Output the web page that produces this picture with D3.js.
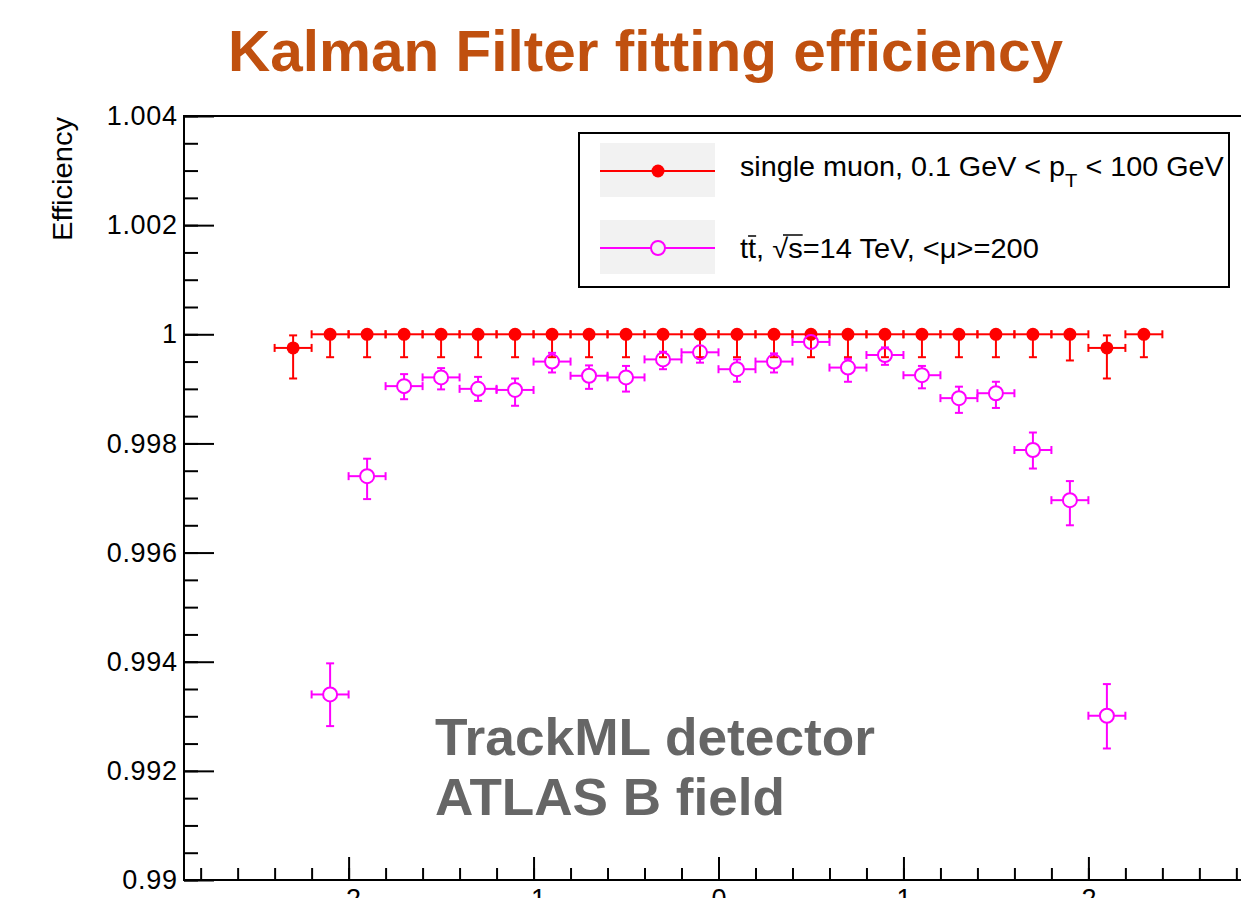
<!DOCTYPE html>
<html>
<head>
<meta charset="utf-8">
<script src="https://d3js.org/d3.v7.min.js"></script>
<style>
  html, body { margin: 0; padding: 0; background: #fff; }
  svg { display: block; }
  text { font-family: "Liberation Sans", Arial, Helvetica, sans-serif; }
</style>
</head>
<body>
<svg id="chart" width="1241" height="898"></svg>
<script>
// Fitting efficiency vs pseudorapidity, bins of width 0.2
const binHalfWidth = 0.1;

// single muon sample
const etaMuon = [-2.3, -2.1, -1.9, -1.7, -1.5, -1.3, -1.1, -0.9, -0.7, -0.5, -0.3, -0.1,
                 0.1, 0.3, 0.5, 0.7, 0.9, 1.1, 1.3, 1.5, 1.7, 1.9, 2.1, 2.3];
const effMuon = [0.99975, 1, 1, 1, 1, 1, 1, 1, 1, 1, 1, 1,
                 1, 1, 1, 1, 1, 1, 1, 1, 1, 1, 0.99975, 1];
const errLowMuon = [0.00056, 0.00042, 0.00042, 0.00042, 0.00042, 0.00042, 0.00042, 0.00042, 0.00042, 0.00042, 0.00042, 0.00042,
                    0.00042, 0.00042, 0.00042, 0.00042, 0.00042, 0.00042, 0.00042, 0.00042, 0.00042, 0.00048, 0.00056, 0.00042];
const errHighMuon = [0.00023, 0, 0, 0, 0, 0, 0, 0, 0, 0, 0, 0,
                     0, 0, 0, 0, 0, 0, 0, 0, 0, 0, 0.00023, 0];

// ttbar sample with pile-up
const etaTtbar = [-2.1, -1.9, -1.7, -1.5, -1.3, -1.1, -0.9, -0.7, -0.5, -0.3, -0.1,
                  0.1, 0.3, 0.5, 0.7, 0.9, 1.1, 1.3, 1.5, 1.7, 1.9, 2.1];
const effTtbar = [0.99340, 0.99740, 0.99905, 0.99921, 0.99900, 0.99898, 0.99950, 0.99924, 0.99921, 0.99954, 0.99967,
                  0.99936, 0.99950, 0.99986, 0.99939, 0.99962, 0.99925, 0.99883, 0.99892, 0.99788, 0.99696, 0.99301];
const errLowTtbar = [0.00058, 0.00042, 0.00024, 0.00022, 0.00022, 0.00029, 0.00020, 0.00024, 0.00026, 0.00018, 0.00019,
                     0.00023, 0.00020, 0.00013, 0.00026, 0.00018, 0.00024, 0.00027, 0.00027, 0.00034, 0.00046, 0.00060];
const errHighTtbar = [0.00057, 0.00032, 0.00022, 0.00017, 0.00022, 0.00021, 0.00016, 0.00019, 0.00021, 0.00014, 0.00013,
                      0.00018, 0.00015, 0.00008, 0.00016, 0.00014, 0.00017, 0.00021, 0.00021, 0.00032, 0.00035, 0.00058];

// axes
const xMajorTicks = [-2, -1, 0, 1, 2];
const xTickLabels = ["-2", "-1", "0", "1", "2"];
const yMajorTicks = [0.99, 0.992, 0.994, 0.996, 0.998, 1, 1.002, 1.004];
const yTickLabels = ["0.99", "0.992", "0.994", "0.996", "0.998", "1", "1.002", "1.004"];

const titleText = "Kalman Filter fitting efficiency";
const yAxisTitle = "Efficiency";
const noteLines = ["TrackML detector", "ATLAS B field"];

// ---------------------------------------------------------------
const svg = d3.select("#chart");
const frame = { left: 184, top: 116, bottom: 880, right: 1253 };

const x = d3.scaleLinear().domain([-2.89, 2.89]).range([frame.left, frame.right]);
const y = d3.scaleLinear().domain([0.99, 1.004]).range([frame.bottom, frame.top]);

// title
svg.append("text")
  .attr("x", 645.5).attr("y", 71)
  .attr("text-anchor", "middle")
  .attr("font-size", 58).attr("font-weight", "bold")
  .attr("fill", "#C0500F")
  .attr("textLength", 835).attr("lengthAdjust", "spacingAndGlyphs")
  .text(titleText);

// axes (ticks point into the frame)
const axisFont = 27;
const yMinor = d3.range(0, 29).map(i => 0.99 + i * 0.0005);
const xMinor = d3.range(-14, 15).map(i => i * 0.2);

svg.append("g")
  .attr("transform", `translate(${frame.left},0)`)
  .call(d3.axisLeft(y).tickValues(yMinor).tickSizeInner(-14).tickSizeOuter(0).tickFormat(""))
  .call(g => g.select(".domain").remove());

svg.append("g")
  .attr("transform", `translate(${frame.left},0)`)
  .call(d3.axisLeft(y).tickValues(yMajorTicks).tickSizeInner(-30).tickSizeOuter(0).tickPadding(7)
          .tickFormat(d => yTickLabels[yMajorTicks.indexOf(d)]))
  .call(g => g.select(".domain").remove())
  .call(g => g.selectAll("text").attr("font-size", axisFont).attr("font-family", "Liberation Sans, Arial, sans-serif")
          .attr("fill", "#000").attr("textLength", function () { return this.getComputedTextLength() * 1.04; }));

svg.append("g")
  .attr("transform", `translate(0,${frame.bottom})`)
  .call(d3.axisBottom(x).tickValues(xMinor).tickSizeInner(-12).tickSizeOuter(0).tickFormat(""))
  .call(g => g.select(".domain").remove());

svg.append("g")
  .attr("transform", `translate(0,${frame.bottom})`)
  .call(d3.axisBottom(x).tickValues(xMajorTicks).tickSizeInner(-23).tickSizeOuter(0).tickPadding(9)
          .tickFormat(d => xTickLabels[xMajorTicks.indexOf(d)]))
  .call(g => g.select(".domain").remove())
  .call(g => g.selectAll("text").attr("font-size", axisFont).attr("font-family", "Liberation Sans, Arial, sans-serif").attr("fill", "#000"));

svg.selectAll(".tick line").attr("stroke", "#000").attr("stroke-width", 2);

// frame
svg.append("rect")
  .attr("x", frame.left).attr("y", frame.top)
  .attr("width", frame.right - frame.left).attr("height", frame.bottom - frame.top)
  .attr("fill", "none").attr("stroke", "#000").attr("stroke-width", 2);

// y-axis title
svg.append("text")
  .attr("transform", `translate(72,${frame.top + 1}) rotate(-90)`)
  .attr("text-anchor", "end")
  .attr("font-size", 27)
  .attr("textLength", 124).attr("lengthAdjust", "spacingAndGlyphs")
  .text(yAxisTitle);

// note text
const noteWidths = [440, 350];
noteLines.forEach((t, i) => svg.append("text")
  .attr("x", 435).attr("y", 755 + i * 60)
  .attr("font-size", 52).attr("font-weight", "bold").attr("fill", "#666666")
  .attr("textLength", noteWidths[i]).attr("lengthAdjust", "spacingAndGlyphs")
  .text(t));

// ---------------------------------------------------------------
// points with error bars (caps at every end, lines stop at an open marker's edge)
function drawSeries(eta, eff, lo, hi, color, r, filled) {
  const g = svg.append("g").attr("stroke", color).attr("stroke-width", 2).attr("fill", "none");
  const cap = 4;
  eta.forEach((e, i) => {
    const cx = x(e), cy = y(eff[i]);
    const xl = x(e - binHalfWidth), xr = x(e + binHalfWidth);
    const yu = y(eff[i] + hi[i]), yd = y(eff[i] - lo[i]);
    const gap = filled ? 0 : r;
    // horizontal
    g.append("line").attr("x1", xl).attr("x2", cx - gap).attr("y1", cy).attr("y2", cy);
    g.append("line").attr("x1", cx + gap).attr("x2", xr).attr("y1", cy).attr("y2", cy);
    g.append("line").attr("x1", xl).attr("x2", xl).attr("y1", cy - cap).attr("y2", cy + cap);
    g.append("line").attr("x1", xr).attr("x2", xr).attr("y1", cy - cap).attr("y2", cy + cap);
    // vertical
    if (cy - yu > gap + 0.5) {
      g.append("line").attr("x1", cx).attr("x2", cx).attr("y1", cy - gap).attr("y2", yu);
      g.append("line").attr("x1", cx - cap).attr("x2", cx + cap).attr("y1", yu).attr("y2", yu);
    }
    if (yd - cy > gap + 0.5) {
      g.append("line").attr("x1", cx).attr("x2", cx).attr("y1", cy + gap).attr("y2", yd);
      g.append("line").attr("x1", cx - cap).attr("x2", cx + cap).attr("y1", yd).attr("y2", yd);
    }
  });
  svg.append("g").selectAll("circle").data(eta).join("circle")
    .attr("cx", d => x(d)).attr("cy", (d, i) => y(eff[i])).attr("r", r)
    .attr("fill", filled ? color : "none")
    .attr("stroke", color).attr("stroke-width", filled ? 0 : 2);
}

drawSeries(etaMuon, effMuon, errLowMuon, errHighMuon, "#ff0000", 6.5, true);
drawSeries(etaTtbar, effTtbar, errLowTtbar, errHighTtbar, "#ff00ff", 7, false);

// ---------------------------------------------------------------
// legend
const legend = svg.append("g");
legend.append("rect")
  .attr("x", 579).attr("y", 133).attr("width", 650).attr("height", 154)
  .attr("fill", "#fff").attr("stroke", "#000").attr("stroke-width", 2);

const entries = [
  { color: "#ff0000", filled: true, r: 6.5, sy: 143, ly: 171, ty: 176 },
  { color: "#ff00ff", filled: false, r: 7, sy: 220, ly: 248, ty: 258 }
];
entries.forEach(en => {
  legend.append("rect").attr("x", 600).attr("y", en.sy).attr("width", 115).attr("height", 54).attr("fill", "#f2f2f2");
  const gap = en.filled ? 0 : en.r;
  legend.append("line").attr("x1", 600).attr("x2", 658 - gap).attr("y1", en.ly).attr("y2", en.ly)
    .attr("stroke", en.color).attr("stroke-width", 2);
  legend.append("line").attr("x1", 658 + gap).attr("x2", 715).attr("y1", en.ly).attr("y2", en.ly)
    .attr("stroke", en.color).attr("stroke-width", 2);
  legend.append("circle").attr("cx", 658).attr("cy", en.ly).attr("r", en.r)
    .attr("fill", en.filled ? en.color : "none").attr("stroke", en.color).attr("stroke-width", en.filled ? 0 : 2);
});

// legend labels, set slightly wide
const lab1 = legend.append("g").attr("transform", "translate(740,0) scale(1.065,1)");
const t1 = lab1.append("text").attr("x", 0).attr("y", entries[0].ty).attr("font-size", 27);
t1.append("tspan").text("single muon, 0.1 GeV < p");
t1.append("tspan").attr("dy", 11).attr("font-size", 19).text("T");
t1.append("tspan").attr("dy", -11).text(" < 100 GeV");

const lab2 = legend.append("g").attr("transform", "translate(740,0) scale(1.075,1)");
const t2 = lab2.append("text").attr("x", 0).attr("y", entries[1].ty).attr("font-size", 27)
  .text("tt, \u221As=14 TeV, <\u03BC>=200");
// bars over the second t and under-root s
const tNode = t2.node();
[[1, 1, 0], [4, 5, -1]].forEach(([from, to, lift]) => {
  const a = tNode.getStartPositionOfChar(from).x;
  const b = tNode.getEndPositionOfChar(to).x;
  const yb = entries[1].ty - 22 + lift;
  lab2.append("line").attr("x1", from === 4 ? a + 10 : a).attr("x2", b).attr("y1", yb).attr("y2", yb)
    .attr("stroke", "#000").attr("stroke-width", 1.5);
});
</script>
</body>
</html>
